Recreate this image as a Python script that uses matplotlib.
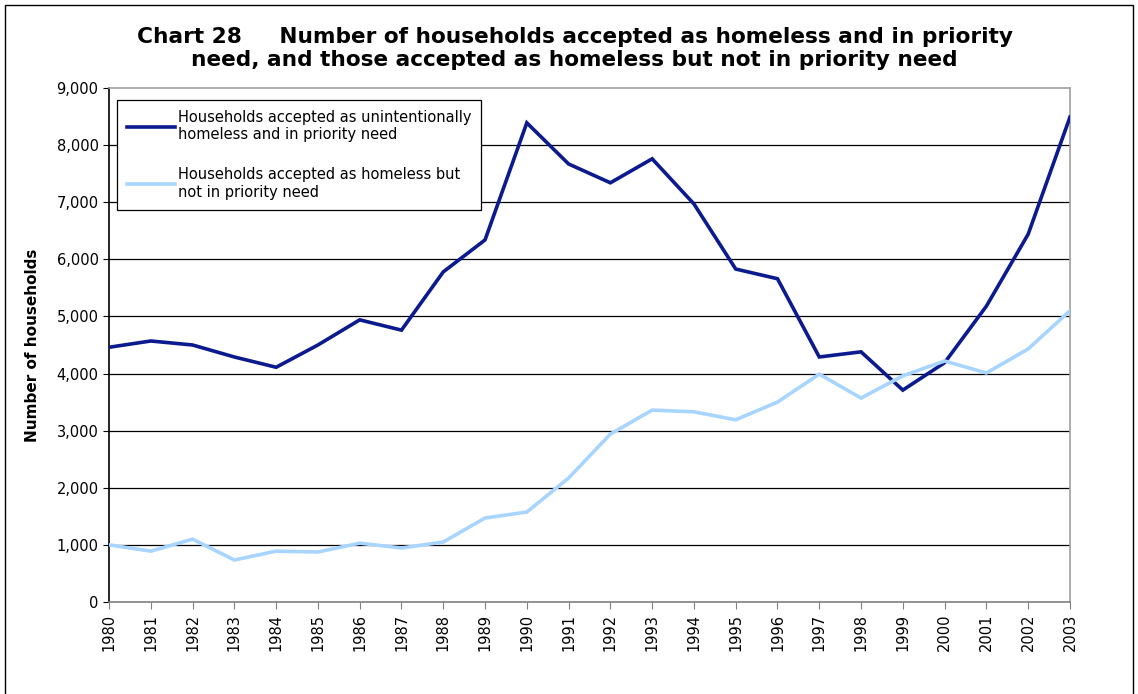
import matplotlib.pyplot as plt
from matplotlib import patches
from matplotlib.ticker import FuncFormatter

years = list(range(1980, 2004))
priority_need = [4460, 4570, 4500, 4290, 4110, 4500, 4940, 4760, 5780, 6340,
                 8390, 7670, 7340, 7760, 6970, 5830, 5660, 4290, 4380, 3710,
                 4190, 5180, 6440, 8490]
not_priority = [1000, 890, 1100, 735, 890, 875, 1030, 945, 1050, 1470,
                1575, 2170, 2940, 3360, 3330, 3190, 3500, 3990, 3570, 3960,
                4220, 4010, 4430, 5100]

label_priority = "Households accepted as unintentionally\nhomeless and in priority need"
label_not = "Households accepted as homeless but\nnot in priority need"

fig = plt.figure(figsize=(11.38, 6.94), dpi=100)
ax = fig.add_axes([0.0958, 0.1326, 0.8444, 0.7406])

ax.plot(years, priority_need, color="#0b1a8e", lw=2.6, label=label_priority,
        solid_joinstyle="miter", zorder=3)
ax.plot(years, not_priority, color="#a8d5ff", lw=2.6, label=label_not,
        solid_joinstyle="miter", zorder=3)

ax.set_xlim(1980, 2003)
ax.set_ylim(0, 9000)
ax.set_xticks(years)
ax.set_xticklabels([str(y) for y in years], rotation=90, fontsize=10.5)
ax.set_yticks(range(0, 9001, 1000))
ax.yaxis.set_major_formatter(FuncFormatter(lambda v, p: f"{int(v):,}"))
ax.tick_params(axis="y", labelsize=10.5, length=4, direction="out")
ax.tick_params(axis="x", length=5, direction="out", color="#808080")

for v in range(1000, 9000, 1000):
    ax.axhline(v, color="black", lw=0.9, zorder=1)

ax.spines["left"].set_color("black")
ax.spines["bottom"].set_color("#808080")
ax.spines["top"].set_color("#a0a0a0")
ax.spines["right"].set_color("#a0a0a0")
for s in ax.spines.values():
    s.set_linewidth(1.2)

ax.set_ylabel("Number of households", fontsize=11, fontweight="bold", labelpad=12)

leg = ax.legend(loc="upper left", bbox_to_anchor=(0.0083, 0.977), borderaxespad=0,
                fontsize=10.5, frameon=True, fancybox=False, edgecolor="black",
                framealpha=1, handlelength=3.3, handletextpad=0.15,
                labelspacing=1.7, borderpad=0.7)
leg.get_frame().set_linewidth(0.9)

fig.text(0.505, 0.930, "Chart 28     Number of households accepted as homeless and in priority\n"
         "need, and those accepted as homeless but not in priority need",
         ha="center", va="center", fontsize=15.6, fontweight="bold", linespacing=1.22)

# thin frame round the whole chart
fig.patches.append(patches.Rectangle((0.004, -0.01), 0.992, 1.003, transform=fig.transFigure,
                                     fill=False, edgecolor="black", lw=1.0))

fig.savefig("out.png", dpi=100)
